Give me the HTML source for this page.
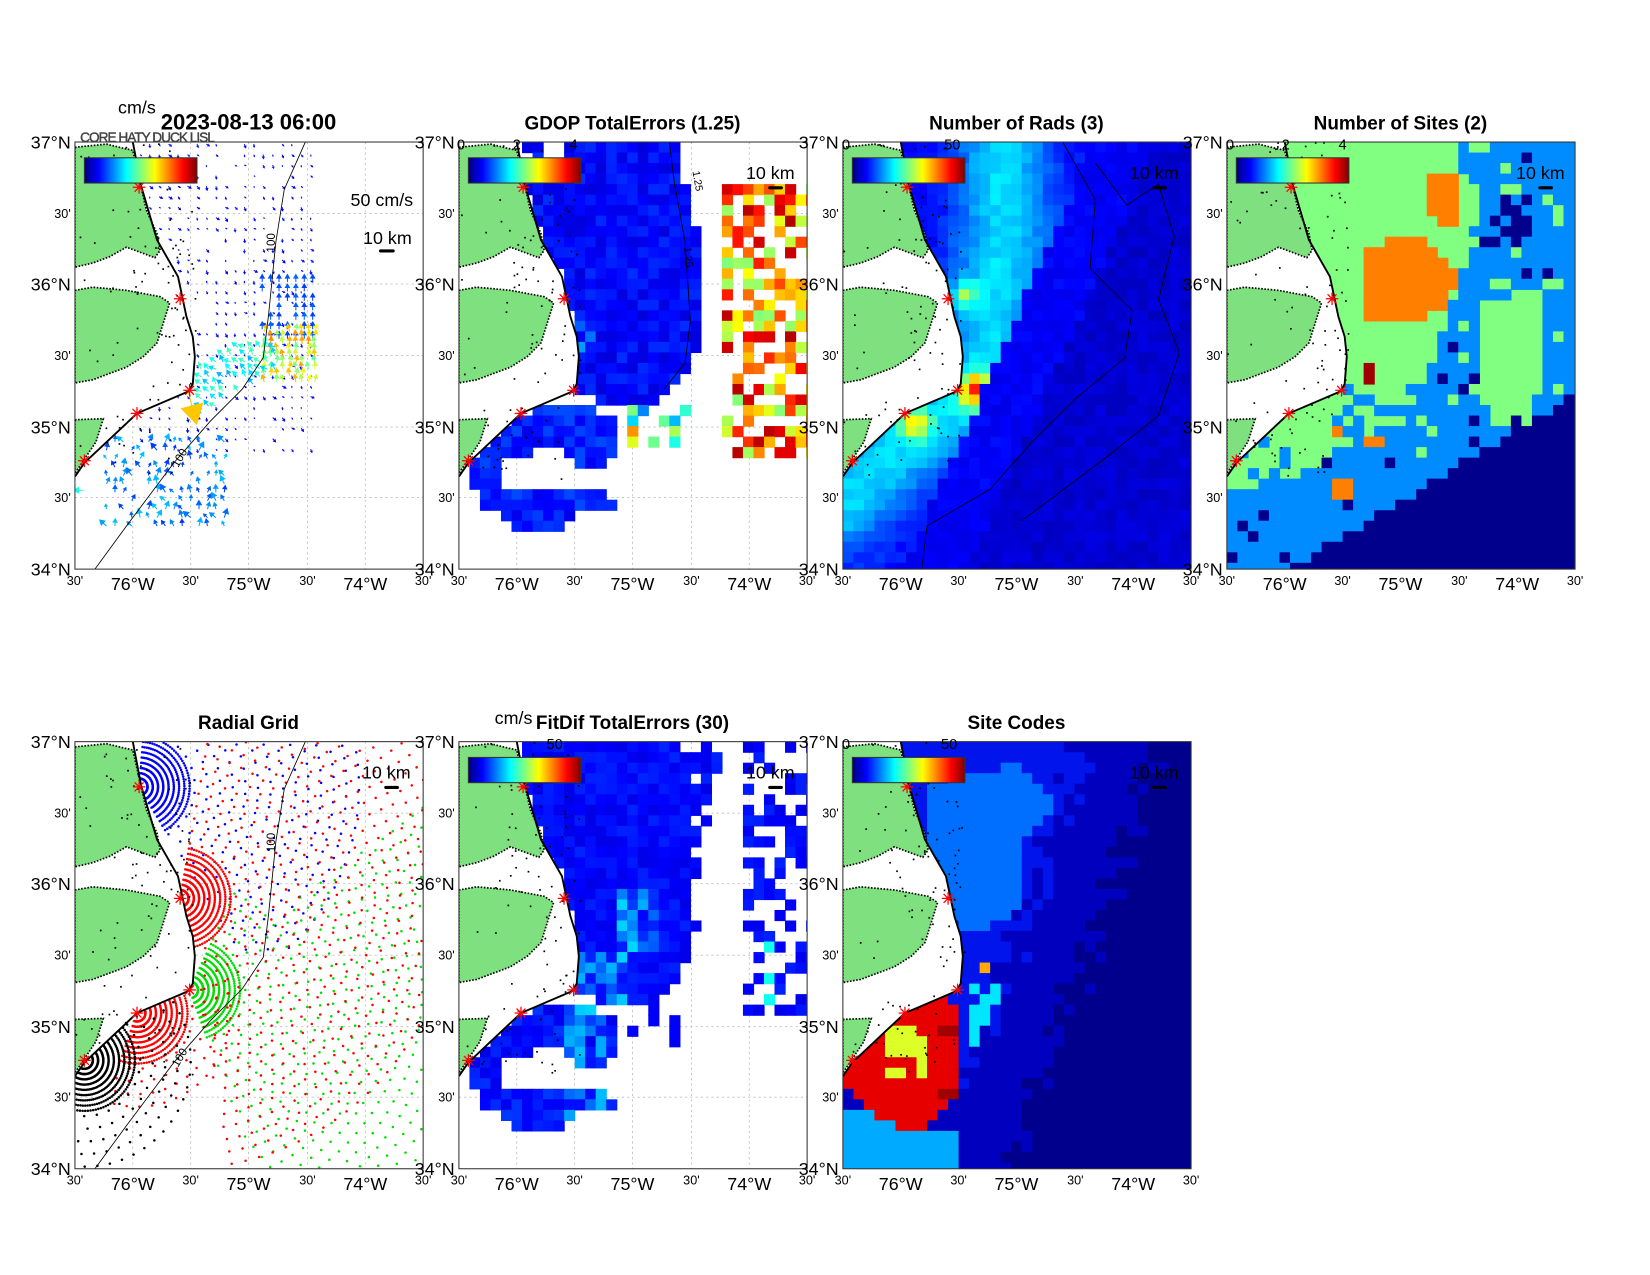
<!DOCTYPE html>
<html><head><meta charset="utf-8"><style>
html,body{margin:0;padding:0;background:#fff;}
svg{display:block;font-family:"Liberation Sans",Arial,sans-serif;}
</style></head><body>
<svg id="s" xmlns="http://www.w3.org/2000/svg" width="1650" height="1275" viewBox="0 0 1568 1212">
<defs>
<linearGradient id="jet" x1="0" x2="1" y1="0" y2="0">
<stop offset="0" stop-color="#000080"/><stop offset="0.125" stop-color="#0000ff"/><stop offset="0.375" stop-color="#00ffff"/><stop offset="0.625" stop-color="#ffff00"/><stop offset="0.875" stop-color="#ff0000"/><stop offset="1" stop-color="#800000"/>
</linearGradient>
<clipPath id="cp"><rect x="0" y="0" width="331" height="406"/></clipPath>
</defs>
</svg>
<script>
const NS='http://www.w3.org/2000/svg';const svg=document.getElementById('s');
function el(t,a,p){const e=document.createElementNS(NS,t);for(const k in a)e.setAttribute(k,a[k]);(p||svg).appendChild(e);return e;}
function tx(s,a,p){const e=el('text',a,p);e.textContent=s;return e;}
let seed=7;function rnd(){seed=(seed*16807)%2147483647;return seed/2147483647;}
function pip(x,y,P){let c=false;for(let i=0,j=P.length-1;i<P.length;j=i++){const xi=P[i][0],yi=P[i][1],xj=P[j][0],yj=P[j][1];if(((yi>y)!=(yj>y))&&(x<(xj-xi)*(y-yi)/(yj-yi)+xi))c=!c;}return c;}
function cl(v){return Math.max(0,Math.min(1,v));}
function jet(v){v=cl(v);const r=cl(1.5-Math.abs(4*v-3)),g=cl(1.5-Math.abs(4*v-2)),b=cl(1.5-Math.abs(4*v-1));return 'rgb('+Math.round(r*255)+','+Math.round(g*255)+','+Math.round(b*255)+')';}
function pts(P){return P.map(p=>p.join(',')).join(' ');}
const mask=[[-5,-5],[55,-5],[55,0],[63,42],[78,93],[98,128],[106,166],[112,185],[114,204],[112,230],[108,237],[59,258],[9,305],[0,318],[-5,320]];
const coast=[[55,0],[63,42],[78,93],[98,128],[106,166],[112,185],[114,204],[112,230],[108,237],[59,258],[9,305],[0,318]];
const land1=[[0,5],[30,2],[55,8],[62,39],[68,65],[78,87],[81,103],[76,110],[49,100],[33,109],[17,115],[0,119]];
const land2=[[0,141],[17,138],[49,141],[81,147],[90,153],[84,172],[78,191],[65,204],[49,214],[33,220],[17,226],[0,229]];
const land3=[[0,264],[27,263],[20,285],[0,315]];
const iso=[[219,0],[199,45],[191,95],[184,165],[179,205],[159,235],[129,265],[94,305],[49,365],[19,406]];
const stars=[[61,43],[100,149],[109,236],[59,258],[9,303]];
function ocean(x,y){return !pip(x,y,mask);}
function cells(g,f){for(let x=0;x<331;x+=10)for(let y=0;y<406;y+=10){const c=f(x+5,y+5);if(c)el('rect',{x:x,y:y,width:10.6,height:10.6,fill:c},g);}}
function panel(ox,oy,draw,opt){
 const G=el('g',{transform:'translate('+ox+','+oy+')'});
 const g=el('g',{'clip-path':'url(#cp)'},G);
 for(const gx of [55,110,165,221,276])el('line',{x1:gx,y1:0,x2:gx,y2:406,stroke:'#bbb','stroke-dasharray':'2,3','stroke-width':0.8},g);
 for(const gy of [68,135,203,271,338])el('line',{x1:0,y1:gy,x2:331,y2:gy,stroke:'#bbb','stroke-dasharray':'2,3','stroke-width':0.8},g);
 draw(g);
 el('polygon',{points:pts(mask),fill:'#fff'},g);
 for(const L of [land1,land2,land3])el('polygon',{points:pts(L),fill:'#7fe07f',stroke:'#000','stroke-width':1.6,'stroke-dasharray':'1.5,1.5'},g);
 for(let i=0;i<160;i++){const x=rnd()*115,y=rnd()*320;if(Math.abs(x-(y<240?60+y*0.22:60))<40||rnd()<0.2)el('rect',{x:x,y:y,width:1.6,height:1.6,fill:'#000'},g);}
 el('polyline',{points:pts(coast),fill:'none',stroke:'#000','stroke-width':1.8},g);
 if(opt.iso){el('polyline',{points:pts(iso),fill:'none',stroke:'#000','stroke-width':0.8},g);
  tx('100',{x:0,y:0,'font-size':11,transform:'translate(190,105) rotate(-90)'},g);
  tx('100',{x:0,y:0,'font-size':11,transform:'translate(98,310) rotate(-60)'},g);}
 for(const s of stars){const [x,y]=s;for(const a of [0,45,90,135]){const r=a*Math.PI/180;el('line',{x1:x-6*Math.cos(r),y1:y-6*Math.sin(r),x2:x+6*Math.cos(r),y2:y+6*Math.sin(r),stroke:'#f00','stroke-width':1.2},g);}}
 if(opt.cb){el('rect',{x:9,y:15,width:107,height:24,fill:'url(#jet)',stroke:'#333','stroke-width':1},G);}
 if(opt.km){tx('10 km',{x:opt.km[0],y:opt.km[1],'font-size':17,'text-anchor':'middle'},G);el('rect',{x:opt.km[0]-2,y:opt.km[1]+7,width:14,height:3,rx:1.5,fill:'#000'},G);}
 el('rect',{x:0,y:0,width:331,height:406,fill:'none',stroke:'#333','stroke-width':1},G);
 const yl=["37°N","30'","36°N","30'","35°N","30'","34°N"],yp=[0,68,135,203,271,338,406];
 yl.forEach((s,i)=>{const b=s.length>3;tx(s,{x:-4,y:yp[i]+(b?6:4),'font-size':b?17:12,'text-anchor':'end'},G);});
 const xl=["30'","76°W","30'","75°W","30'","74°W","30'"],xp=[0,55,110,165,221,276,331];
 xl.forEach((s,i)=>{const b=s.length>3;tx(s,{x:xp[i],y:406+(b?20:15),'font-size':b?17:12,'text-anchor':'middle'},G);});
 if(opt.title)tx(opt.title,{x:165,y:-12,'font-size':opt.ts||18,'font-weight':'bold','text-anchor':'middle'},G);
 return G;
}
function arrow(g,x,y,ang,len,col){const dx=Math.cos(ang),dy=Math.sin(ang);const w=len*0.35;
 el('line',{x1:x,y1:y,x2:x+dx*len*0.5,y2:y+dy*len*0.5,stroke:col,'stroke-width':1},g);
 el('polygon',{points:(x+dx*len)+','+(y+dy*len)+' '+(x+dx*len*0.4-dy*w)+','+(y+dy*len*0.4+dx*w)+' '+(x+dx*len*0.4+dy*w)+','+(y+dy*len*0.4-dx*w),fill:col},g);}
// P1 quiver
panel(71,135,g=>{
 for(let x=62;x<230;x+=9)for(let y=2;y<300;y+=10){if(!ocean(x,y))continue;if(y>150&&y<175&&x<130)continue;if(x>110+ (y<60?140:0)&&y<60&&x>215)continue;
  if(rnd()<0.35)continue;arrow(g,x,y,Math.PI*(0.1+rnd()*0.4),2+rnd()*3,jet(0.1+rnd()*0.05));}
 for(let x=178;x<228;x+=8)for(let y=125;y<180;y+=9){if(rnd()<0.2)continue;arrow(g,x,y+8,-Math.PI/2,8,jet(0.18+rnd()*0.05));}
 for(let x=180;x<232;x+=6)for(let y=180;y<232;y+=6){if(rnd()<0.3)continue;arrow(g,x,y,-Math.PI*(0.4+rnd()*0.2),8,jet(0.45+rnd()*0.3));}
 for(let x=120;x<195;x+=7)for(let y=195;y<262;y+=7){if(y<260-(x-120)*0.6&&y>235-(x-120)*0.7-20){if(rnd()<0.3)continue;arrow(g,x,y,Math.PI*(1.1+rnd()*0.3),8,jet(0.3+rnd()*0.15));}}
 for(let x=30;x<145;x+=8)for(let y=285;y<370;y+=8){if(!ocean(x,y)||rnd()<0.35)continue;arrow(g,x,y,-Math.PI*(0.3+rnd()*0.5),5+rnd()*5,jet(0.17+rnd()*0.15));}
 arrow(g,108,238,Math.PI*0.42,32,jet(0.68));
 arrow(g,8,331,Math.PI,10,jet(0.4));
},{iso:true,cb:true,title:''});
tx('2023-08-13 06:00',{x:236,y:123,'font-size':21,'font-weight':'bold','text-anchor':'middle'});
tx('cm/s',{x:112,y:108,'font-size':17});
tx('CORE HATY DUCK LISL',{x:76,y:135,'font-size':13,fill:'#444',textLength:128,stroke:'#444','stroke-width':0.4});
tx('50 cm/s',{x:333,y:196,'font-size':17});
tx('10 km',{x:368,y:232,'font-size':17,'text-anchor':'middle'});el('rect',{x:360,y:237,width:15,height:3,rx:1.5,fill:'#000'});
// P2 GDOP
const blobA=[[40,0],[205,0],[228,95],[232,170],[220,215],[195,245],[160,252],[130,245],[115,240],[40,240]];
const blobB=[[60,255],[115,250],[145,262],[150,300],[130,310],[100,300],[80,310],[100,330],[140,325],[150,345],[120,350],[90,372],[55,370],[25,345],[10,325],[15,300],[40,280]];
const hole=[[45,300],[95,290],[100,322],[70,335],[42,325]];
panel(436,135,g=>{
 cells(g,(x,y)=>{
  if(pip(x,y,blobA)&&ocean(x,y)){if(x<110&&y<25&&rnd()<0.5)return null;return jet(0.09+rnd()*0.08+(x<130&&y>160&&y<200?0.15*rnd():0));}
  if(pip(x,y,blobB)&&!pip(x,y,hole)&&ocean(x,y))return jet(0.1+rnd()*0.1);
  if(x>160&&x<225&&y>245&&y<295&&rnd()<0.3)return jet(0.2+rnd()*0.6);
  if(x>250&&y>35&&y<300){const p=(y<60&&x>290)?0.9:0.6;if(rnd()<p)return jet(0.5+rnd()*0.45);}
  if(x>300&&y>270&&y<300&&rnd()<0.6)return jet(0.9);
  return null;});
 el('polyline',{points:'200,0 205,40 215,95 220,170 215,210 195,235',fill:'none',stroke:'#000','stroke-width':0.8},g);
 tx('1.25',{x:0,y:0,'font-size':10,transform:'translate(222,28) rotate(80)'},g);
 tx('1.25',{x:0,y:0,'font-size':10,transform:'translate(214,100) rotate(85)'},g);
},{cb:true,km:[296,35],title:'GDOP TotalErrors (1.25)'});
tx('0',{x:438,y:142,'font-size':14,'text-anchor':'middle'});tx('2',{x:491,y:142,'font-size':14,'text-anchor':'middle'});tx('4',{x:545,y:142,'font-size':14,'text-anchor':'middle'});
// P3 Rads
const cl3=[[150,0],[155,80],[140,160],[140,235],[80,270],[20,320],[0,345]];
function dseg(x,y,P){let m=1e9;for(let i=0;i<P.length-1;i++){const [ax,ay]=P[i],[bx,by]=P[i+1];const vx=bx-ax,vy=by-ay;let t=((x-ax)*vx+(y-ay)*vy)/(vx*vx+vy*vy);t=cl(t);const dx=ax+t*vx-x,dy=ay+t*vy-y;m=Math.min(m,Math.hypot(dx,dy));}return m;}
panel(801,135,g=>{
 cells(g,(x,y)=>{const d=dseg(x,y,cl3);let v=0.1+0.22*Math.exp(-(d*d)/(45*45))+rnd()*0.05;
  v+=0.5*Math.exp(-((x-125)**2+(y-235)**2)/250)+0.35*Math.exp(-((x-68)**2+(y-268)**2)/200)+0.25*Math.exp(-((x-115)**2+(y-145)**2)/150);
  const s=x+y*0.45;if(s>300)v=0.06+rnd()*0.04;else if(s>240)v=Math.min(v,0.1+rnd()*0.04);return jet(v);});
 el('polyline',{points:'209,0 240,55 235,120 275,160 268,205 220,245 180,285 140,330 80,365 75,406',fill:'none',stroke:'#000','stroke-width':0.8},g);
 el('polyline',{points:'240,20 270,60 300,40 315,90 300,150 320,200 300,260 250,300 210,330 170,360',fill:'none',stroke:'#000','stroke-width':0.8},g);
},{cb:true,km:[296,35],title:'Number of Rads (3)'});
tx('0',{x:804,y:142,'font-size':14,'text-anchor':'middle'});tx('50',{x:905,y:142,'font-size':14,'text-anchor':'middle'});
// P4 Sites
const GR='rgb(128,255,128)',BL='rgb(0,140,255)',NV='rgb(0,0,140)',OR='rgb(255,128,0)';
const or1=[[130,100],[175,88],[210,110],[225,130],[205,160],[180,170],[150,175],[130,165],[125,130]];
const or2=[[188,35],[225,35],[225,75],[200,80],[188,60]];
const blR=[[225,0],[331,0],[331,406],[0,406],[0,330],[60,320],[100,300],[150,290],[180,250],[200,200],[215,150],[230,100],[240,60],[225,30]];
const grR=[[240,150],[300,140],[305,200],[290,260],[250,270],[235,220]];
const nvP=[[60,406],[331,240],[331,406]];
panel(1166,135,g=>{
 el('rect',{x:0,y:0,width:331,height:406,fill:GR},g);
 cells(g,(x,y)=>{
  if(pip(x,y,or1)||pip(x,y,or2))return OR;
  if((x>95&&x<115&&y>265&&y<285)||(x>134&&x<150&&y>275&&y<295)||(x>95&&x<116&&y>320&&y<343))return OR;
  if(x>130&&x<142&&y>210&&y<230)return 'rgb(160,0,0)';
  if(pip(x,y,nvP))return NV;
  if(x>262&&x<290&&y>45&&y<105&&rnd()<0.6)return NV;
  if(pip(x,y,blR)&&!pip(x,y,grR)){if(rnd()<0.05)return NV;if(y<300&&rnd()<0.06)return GR;return BL;}
  if(x<60&&y>280&&y<320&&rnd()<0.4)return BL;
  if(x>100&&x<230&&y>230&&y<300&&rnd()<0.35)return BL;
  return null;});
},{cb:true,km:[298,35],title:'Number of Sites (2)'});
tx('0',{x:1169,y:142,'font-size':14,'text-anchor':'middle'});tx('2',{x:1222,y:142,'font-size':14,'text-anchor':'middle'});tx('4',{x:1276,y:142,'font-size':14,'text-anchor':'middle'});
// B1 radial grid
panel(71,705,g=>{
 const S=[[61,43,'#0000ff',210,-85,60],[100,149,'#ff0000',260,-80,80],[109,236,'#00dd00',320,-65,70],[59,258,'#ff0000',95,-20,110],[9,303,'#000',110,-40,120]];
 const order=[0,2,1,3,4];
 for(const k of order){const [sx,sy,c,R,a0,a1]=S[k];
  for(let r=8;r<R;r+=(r<50?5:12)){const st=r<50?3:Math.max(3,690/r);
   for(let a=a0;a<=a1;a+=st){const t=a*Math.PI/180;const x=sx+r*Math.cos(t),y=sy+r*Math.sin(t);if(x<0||x>331||y<0||y>406||!ocean(x,y))continue;
    if(k==0&&y>200)continue;if(k==2&&r>110&&(a<-40))continue;
    el('circle',{cx:x.toFixed(1),cy:y.toFixed(1),r:1.2,fill:c},g);}}}
},{iso:true,km:[296,35],title:'Radial Grid'});
// B2 FitDif
const blobC=[[40,0],[250,0],[240,60],[230,120],[228,180],[215,215],[190,250],[160,252],[130,245],[115,240],[40,240]];
panel(436,705,g=>{
 cells(g,(x,y)=>{
  if(pip(x,y,blobC)&&ocean(x,y)){if(y<10&&x>200&&rnd()<0.6)return null;if(x>220&&rnd()<0.4)return null;return jet(0.1+rnd()*0.06+((x>110&&x<160&&y>200)||(x>150&&x<190&&y>140&&y<200)?rnd()*0.22:0));}
  if(pip(x,y,blobB)&&!pip(x,y,hole)&&ocean(x,y))return jet(0.1+rnd()*0.08+(x>100&&x<140&&y>250?0.2*rnd():0));
  if(x>265&&y<260&&rnd()<0.45)return jet(0.1+rnd()*0.06+(x>285&&x<305&&y>190?0.25:0));
  if(x>160&&x<225&&y>245&&y<295&&rnd()<0.35)return jet(0.12);
  return null;});
},{cb:true,km:[296,35],title:'FitDif TotalErrors (30)'});
tx('cm/s',{x:470,y:688,'font-size':17});tx('50',{x:527,y:712,'font-size':14,'text-anchor':'middle'});
// B3 Site Codes
const lb=[[80,40],[170,20],[200,60],[170,100],[170,160],[130,180],[90,170]];
const red=[[10,280],[40,255],[70,250],[100,240],[115,260],[115,330],[100,345],[70,370],[40,360],[10,340],[0,320]];
const lb2=[[0,345],[40,360],[70,375],[110,370],[115,406],[0,406]];
panel(801,705,g=>{
 cells(g,(x,y)=>{
  if(pip(x,y,lb2))return 'rgb(0,170,255)';
  if(pip(x,y,red)){if(x>39&&x<79&&y>270&&y<325&&rnd()<0.8)return 'rgb(220,255,40)';if(x>94&&x<114&&(y>325&&y<345||y>265&&y<285))return 'rgb(160,0,0)';return 'rgb(230,0,0)';}
  if(x>129&&x<144&&y>205&&y<225)return 'rgb(255,170,0)';
  if(x>115&&x<150&&y>225&&y<295&&rnd()<0.5)return 'rgb(0,230,255)';
  if(pip(x,y,lb))return 'rgb(0,110,255)';
  const s=x+(y)*0.35+rnd()*40;
  if(s>320)return 'rgb(0,0,140)';if(s>250||y>330)return 'rgb(0,0,190)';
  return 'rgb(0,20,235)';});
},{cb:true,km:[296,35],title:'Site Codes'});
tx('0',{x:804,y:712,'font-size':14,'text-anchor':'middle'});tx('50',{x:902,y:712,'font-size':14,'text-anchor':'middle'});
</script>
</body></html>
